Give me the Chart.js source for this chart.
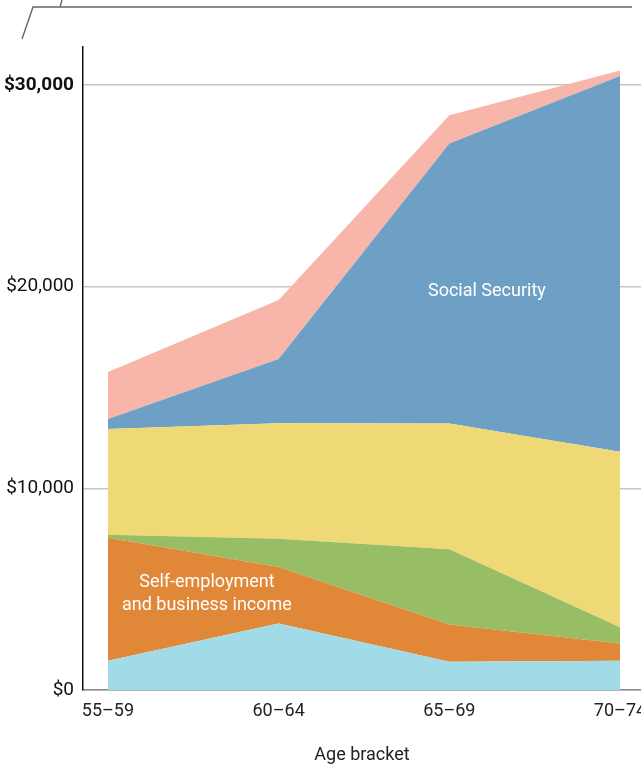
<!DOCTYPE html>
<html>
<head>
<meta charset="utf-8">
<script src="https://cdn.jsdelivr.net/npm/chart.js@4/dist/chart.umd.min.js"></script>
<style>
  html, body { margin: 0; padding: 0; background: #fff; }
  #wrap { width: 641px; height: 766px; }
</style>
</head>
<body>
<div id="wrap"><canvas id="chart" width="641" height="766"></canvas></div>
<script>
// age brackets along the bottom
const categories = ['55–59', '60–64', '65–69', '70–74'];

// income by source, stacked bottom to top (dollars)
const otherIncome    = [1450, 3300, 1400, 1450];
const selfEmployment = [6100, 2800, 1850, 850];
const retirementDraw = [150, 1400, 3730, 810];
const pensionIncome  = [5240, 5730, 6230, 8700];
const socialSecurity = [500, 3180, 13880, 18630];
const otherSources   = [2330, 2925, 1400, 280];

const yTicks = [0, 10000, 20000, 30000];

const FONT = 'Roboto, "Noto Sans", sans-serif';

function series(values) {
    return values.map(function (v, i) { return { x: i, y: v }; });
}

function layer(label, values, color, fill) {
    return {
        label: label,
        data: series(values),
        backgroundColor: color,
        borderColor: 'rgba(0,0,0,0)',
        borderWidth: 0,
        pointRadius: 0,
        pointHoverRadius: 0,
        tension: 0,
        fill: fill
    };
}

// little bracket line above the plot
const headerLines = {
    id: 'headerLines',
    afterDraw: function (chart) {
        const c = chart.ctx;
        c.save();
        c.strokeStyle = '#666';
        c.lineWidth = 1.4;
        c.beginPath();
        c.moveTo(22, 39);
        c.lineTo(33, 7);
        c.lineTo(632, 7);
        c.moveTo(60, 7);
        c.lineTo(62, 0);
        c.stroke();
        c.restore();
    }
};

// white labels inside the areas
const areaLabels = {
    id: 'areaLabels',
    afterDatasetsDraw: function (chart) {
        const c = chart.ctx;
        const xs = chart.scales.x, ys = chart.scales.y;
        c.save();
        c.fillStyle = '#fff';
        c.font = '18px ' + FONT;
        c.textAlign = 'center';
        c.textBaseline = 'middle';
        c.fillText('Social Security', xs.getPixelForValue(2.22), ys.getPixelForValue(19780));
        c.fillText('Self-employment', xs.getPixelForValue(0.58), ys.getPixelForValue(5350));
        c.fillText('and business income', xs.getPixelForValue(0.58), ys.getPixelForValue(4165));
        c.restore();
    }
};

new Chart(document.getElementById('chart'), {
    type: 'line',
    data: {
        datasets: [
            layer('Other', otherIncome, '#a1dbe7', 'origin'),
            layer('Self-employment and business income', selfEmployment, '#e08838', '-1'),
            layer('Retirement accounts', retirementDraw, '#97be65', '-1'),
            layer('Pensions', pensionIncome, '#efd977', '-1'),
            layer('Social Security', socialSecurity, '#6ea0c5', '-1'),
            layer('Other sources', otherSources, '#f8b6ab', '-1')
        ]
    },
    options: {
        responsive: false,
        animation: false,
        layout: { padding: { top: 47, right: 0, left: 0, bottom: 0 } },
        plugins: {
            legend: { display: false },
            tooltip: { enabled: false }
        },
        scales: {
            x: {
                type: 'linear',
                min: -0.146,
                max: 3.123,
                afterBuildTicks: function (scale) {
                    scale.ticks = categories.map(function (c, i) { return { value: i }; });
                },
                afterFit: function (scale) {
                    scale.paddingLeft = 0;
                    scale.paddingRight = 0;
                    scale.height = 76;
                },
                grid: { display: false, drawTicks: false },
                border: { color: '#8a8a8a', width: 1.5 },
                ticks: {
                    padding: 11,
                    color: '#222',
                    font: { family: FONT, size: 18 },
                    callback: function (v) { return categories[v]; }
                },
                title: {
                    display: true,
                    text: 'Age bracket',
                    color: '#222',
                    font: { family: FONT, size: 18 },
                    padding: { top: 0, bottom: 0 }
                }
            },
            y: {
                stacked: true,
                min: 0,
                max: 31880,
                afterBuildTicks: function (scale) {
                    scale.ticks = yTicks.map(function (v) { return { value: v }; });
                },
                afterFit: function (scale) { scale.width = 83; },
                grid: { color: '#c6c6c6', lineWidth: 1.5, drawTicks: false },
                border: { color: '#111', width: 1.5 },
                ticks: {
                    padding: 9,
                    color: '#111',
                    font: function (ctx) {
                        const bold = ctx.tick && ctx.tick.value === 30000;
                        return { family: FONT, size: 19, weight: bold ? 'bold' : 'normal' };
                    },
                    callback: function (v) { return '$' + v.toLocaleString('en-US'); }
                }
            }
        }
    },
    plugins: [headerLines, areaLabels]
});
</script>
</body>
</html>
